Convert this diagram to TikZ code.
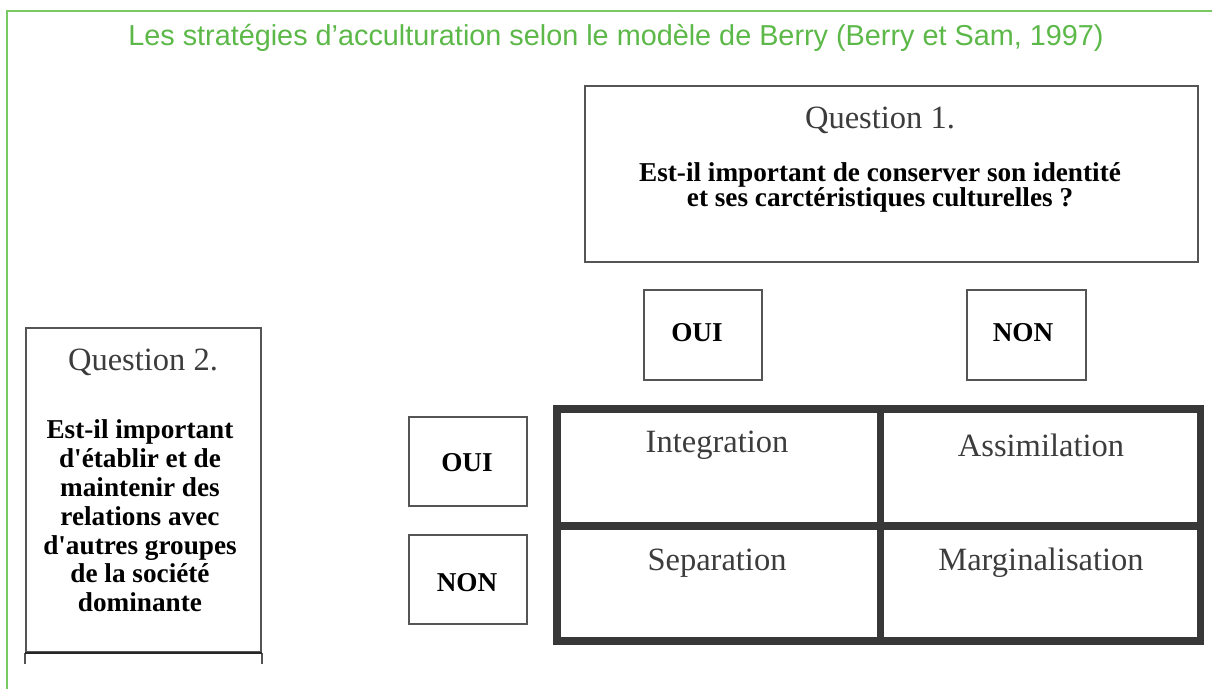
\documentclass[tikz,border=0pt]{standalone}
\usepackage{fontspec}
\setmainfont{Liberation Serif}
\newfontfamily\titlefont{Liberation Sans}
\usetikzlibrary{positioning}
\definecolor{berrygreen}{RGB}{92,184,72}
\definecolor{frameline}{RGB}{120,200,100}
\definecolor{boxgray}{RGB}{85,85,85}
\definecolor{textgray}{RGB}{60,60,60}

\begin{document}
\begin{tikzpicture}[x=0.02cm,y=-0.02cm,
box/.style={draw=boxgray,line width=1pt,inner sep=0pt},
qtitle/.style={text=textgray,font=\fontsize{18.5}{20}\selectfont},
qtext/.style={align=center,font=\bfseries\fontsize{15.5}{14.2}\selectfont},
answer/.style={font=\bfseries\fontsize{15.5}{16}\selectfont},
cell/.style={text=textgray,font=\fontsize{18.5}{20}\selectfont},
grid/.style={draw=black!78,line width=4pt}]
\useasboundingbox (0,0) rectangle (1212,689);

% frame and title
\draw [frameline,line width=1pt] (7,689) -- (7,11) -- (1212,11);
\node [text=berrygreen,font=\titlefont\fontsize{16.4}{18}\selectfont] (title) at (616,38)
  {Les stratégies d’acculturation selon le modèle de Berry (Berry et Sam, 1997)};

% question 1
\node [box,minimum width=12.26cm,minimum height=3.52cm] (q1) at (891.5,174) {};
\node [qtitle] (q1t) at (880,120) {Question 1.};
\node [qtext] (q1q) at (880,187) {Est-il important de conserver son identité\\et ses carctéristiques culturelles ?};

\node [box,minimum width=2.36cm,minimum height=1.8cm] (oui1) at (703,335) {};
\node [answer] (oui1t) at (697,333) {OUI};
\node [box,minimum width=2.38cm,minimum height=1.8cm] (non1) at (1026.5,335) {};
\node [answer] (non1t) at (1023,333) {NON};

% question 2
\node [box,minimum width=4.7cm,minimum height=6.48cm] (q2) at (143.5,490) {};
\draw [boxgray,line width=1pt] (q2.south west) -- ++(0,11);
\draw [boxgray,line width=1pt] (q2.south east) -- ++(0,11);
\draw [black!85,line width=1.4pt] (q2.south west) -- (q2.south east);
\node [qtitle] (q2t) at (143,362) {Question 2.};
\node [qtext,font=\bfseries\fontsize{15.5}{16.4}\selectfont] (q2q) at (140,516)
  {Est-il important\\d\textquotesingle établir et de\\maintenir des\\relations avec\\d\textquotesingle autres groupes\\de la société\\dominante};

\node [box,minimum width=2.36cm,minimum height=1.78cm] (oui2) at (468,461.5) {};
\node [answer] (oui2t) at (467,463) {OUI};
\node [box,minimum width=2.36cm,minimum height=1.78cm] (non2) at (468,579.5) {};
\node [answer] (non2t) at (467,583) {NON};

% strategies
\coordinate (tl) at (557,409);
\coordinate (br) at (1200,641);
\coordinate (mt) at (880,409);
\coordinate (mb) at (880,641);
\coordinate (ml) at (557,526);
\coordinate (mr) at (1200,526);
\draw [grid] (tl) rectangle (br);
\draw [grid] (mt) -- (mb);
\draw [grid] (ml) -- (mr);
\node [cell] (integ) at (717,445) {Integration};
\node [cell] (assim) at (1041,445) {Assimilation};
\node [cell] (separ) at (717,563) {Separation};
\node [cell] (margi) at (1041,563) {Marginalisation};
\end{tikzpicture}
\end{document}
